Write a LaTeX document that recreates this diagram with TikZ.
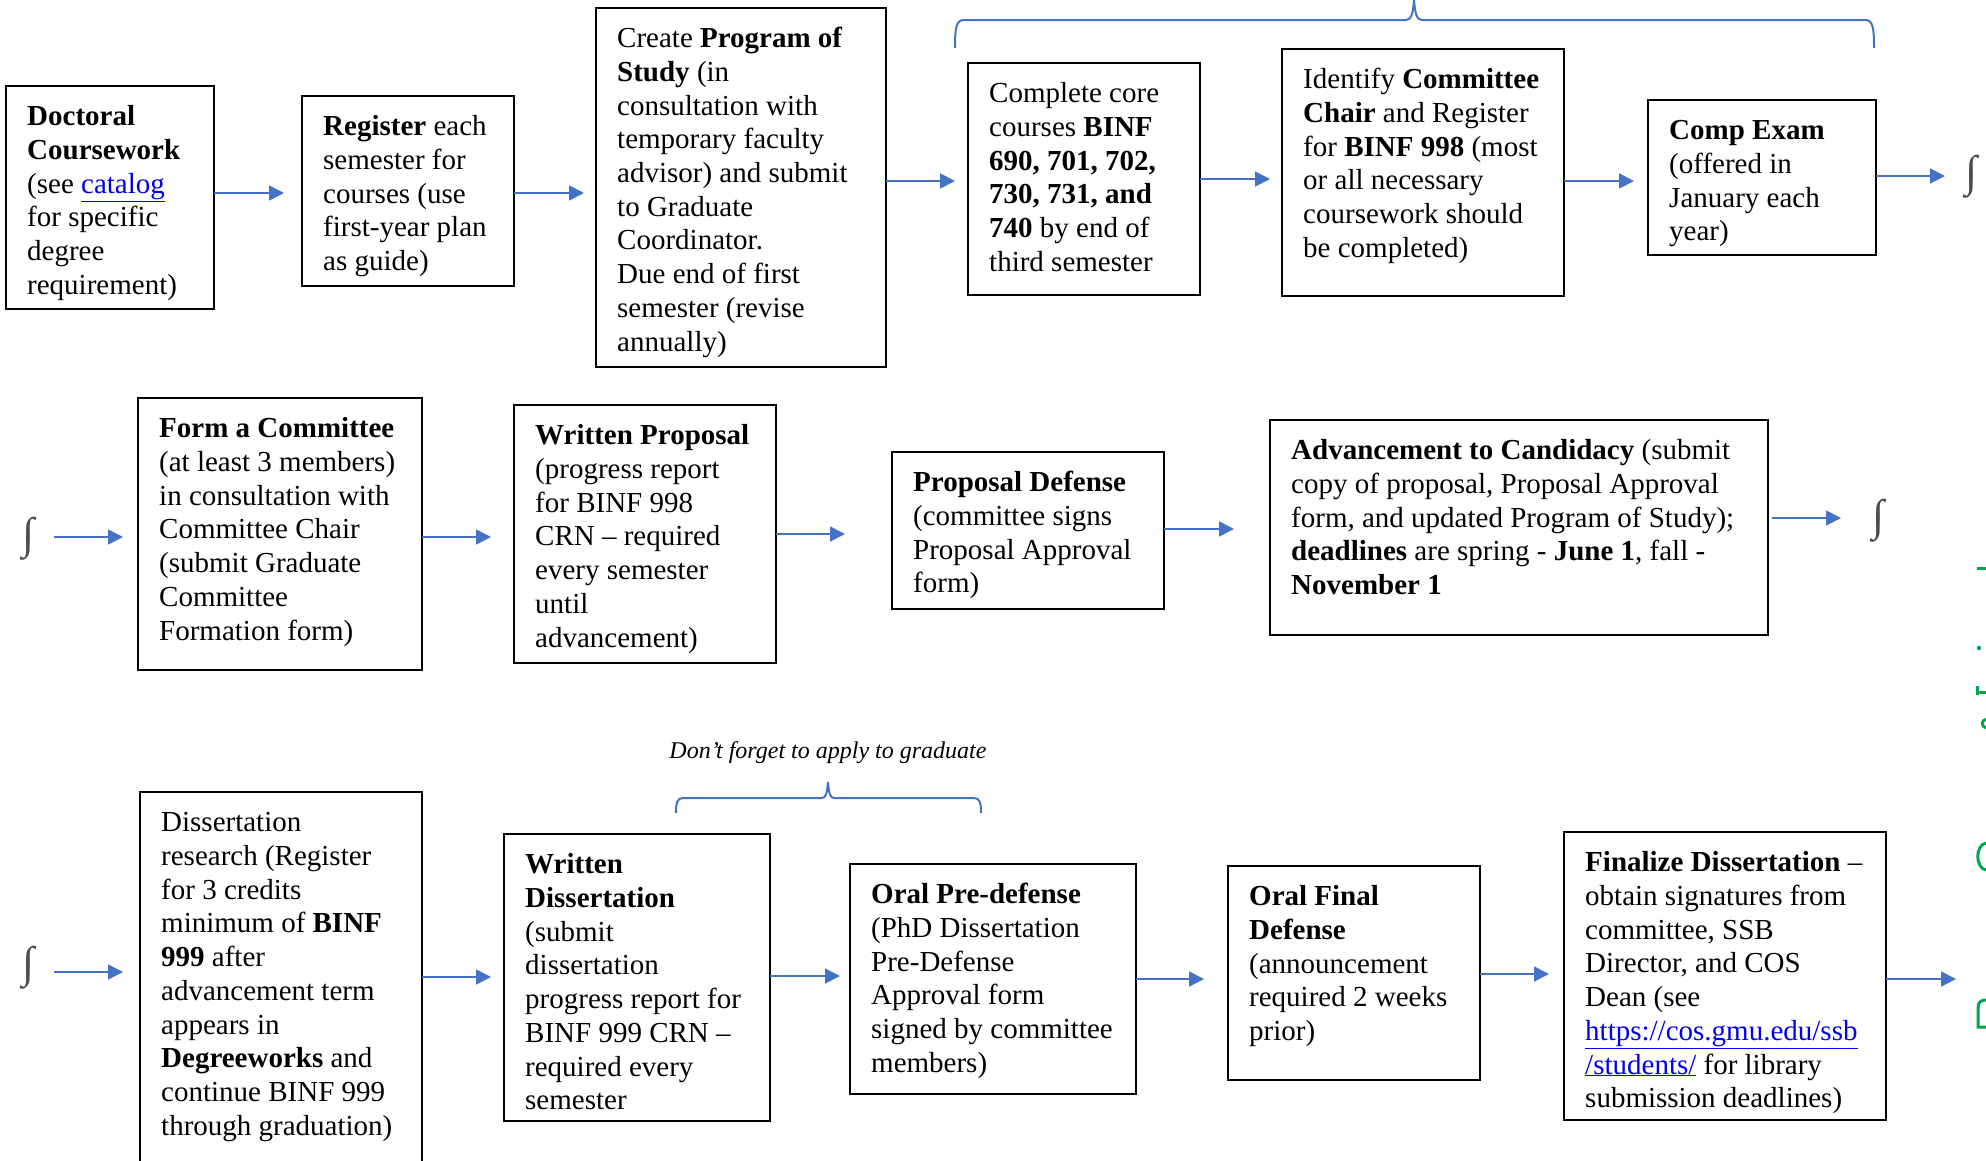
\documentclass[tikz,border=0pt]{standalone}
\usepackage{fontspec}
\setmainfont{Liberation Serif}
\usetikzlibrary{arrows.meta}
\definecolor{arrowblue}{RGB}{68,114,196}
\definecolor{linkblue}{RGB}{0,0,238}
\definecolor{markgreen}{RGB}{0,166,80}
\newcommand\lnk[1]{\textcolor{linkblue}{\underline{#1}}}
\begin{document}
\begin{tikzpicture}[x=1pt,y=-1pt,
  box/.style={draw, line width=2.5pt, inner sep=0pt, outer sep=0pt, anchor=north west},
  txt/.style={anchor=north west, inner sep=0pt, align=left, font=\fontsize{29}{33.7}\selectfont},
  arr/.style={draw=arrowblue, line width=1.8pt, -{Triangle[length=15pt,width=15pt]}},
  intg/.style={inner sep=0pt, text=black!70, font=\fontsize{44}{44}\selectfont\bfseries},
  brace/.style={draw=arrowblue, line width=2pt},
  gmark/.style={draw=markgreen, line width=3pt}
]
\useasboundingbox (0,0) rectangle (1986,1160);

% ---------- Row 1 ----------
\node[box, minimum width=208pt, minimum height=223pt] (b1) at (6,86) {};
\node[box, minimum width=212pt, minimum height=190pt] (b2) at (302,96) {};
\node[box, minimum width=290pt, minimum height=359pt] (b3) at (596,8) {};
\node[box, minimum width=232pt, minimum height=232pt] (b4) at (968,63) {};
\node[box, minimum width=282pt, minimum height=247pt] (b5) at (1282,49) {};
\node[box, minimum width=228pt, minimum height=155pt] (b6) at (1648,100) {};

\node[txt] (t1) at ([shift={(21,16)}]b1.north west) {\strut\textbf{Doctoral}\\ \textbf{Coursework}\\ (see \lnk{catalog}\\ for specific\\ degree\\ requirement)};
\node[txt] (t2) at ([shift={(21,16)}]b2.north west) {\strut\textbf{Register} each\\ semester for\\ courses (use\\ first-year plan\\ as guide)};
\node[txt] (t3) at ([shift={(21,16)}]b3.north west) {\strut Create \textbf{Program of}\\ \textbf{Study} (in\\ consultation with\\ temporary faculty\\ advisor) and submit\\ to Graduate\\ Coordinator.\\ Due end of first\\ semester (revise\\ annually)};
\node[txt] (t4) at ([shift={(21,16)}]b4.north west) {\strut Complete core\\ courses \textbf{BINF}\\ \textbf{690, 701, 702,}\\ \textbf{730, 731, and}\\ \textbf{740} by end of\\ third semester};
\node[txt] (t5) at ([shift={(21,16)}]b5.north west) {\strut Identify \textbf{Committee}\\ \textbf{Chair} and Register\\ for \textbf{BINF 998} (most\\ or all necessary\\ coursework should\\ be completed)};
\node[txt] (t6) at ([shift={(21,16)}]b6.north west) {\strut\textbf{Comp Exam}\\ (offered in\\ January each\\ year)};

\node[intg] (s1) at (1972,177) {∫};

\draw[arr, shorten >=18pt] (b1.east |- 0,193) -- (b2.west |- 0,193);
\draw[arr, shorten >=12pt] (b2.east |- 0,193) -- (b3.west |- 0,193);
\draw[arr, shorten >=13pt] (b3.east |- 0,181) -- (b4.west |- 0,181);
\draw[arr, shorten >=12pt] (b4.east |- 0,179) -- (b5.west |- 0,179);
\draw[arr, shorten >=14pt] (b5.east |- 0,181) -- (b6.west |- 0,181);
\draw[arr, shorten >=27pt] (b6.east |- 0,176) -- (s1.center |- 0,176);

\draw[brace] (955,48) .. controls (955,28) and (956,20) .. (964,20) -- (1406,20)
  .. controls (1411,20) and (1413,14) .. (1414,0)
  .. controls (1415,14) and (1417,20) .. (1422,20) -- (1865,20)
  .. controls (1873,20) and (1874,28) .. (1874,48);

% ---------- Row 2 ----------
\node[box, minimum width=284pt, minimum height=272pt] (b7) at (138,398) {};
\node[box, minimum width=262pt, minimum height=258pt] (b8) at (514,405) {};
\node[box, minimum width=272pt, minimum height=157pt] (b9) at (892,452) {};
\node[box, minimum width=498pt, minimum height=215pt] (b10) at (1270,420) {};

\node[txt] (t7) at ([shift={(21,16)}]b7.north west) {\strut\textbf{Form a Committee}\\ (at least 3 members)\\ in consultation with\\ Committee Chair\\ (submit Graduate\\ Committee\\ Formation form)};
\node[txt] (t8) at ([shift={(21,16)}]b8.north west) {\strut\textbf{Written Proposal}\\ (progress report\\ for BINF 998\\ CRN – required\\ every semester\\ until\\ advancement)};
\node[txt] (t9) at ([shift={(21,16)}]b9.north west) {\strut\textbf{Proposal Defense}\\ (committee signs\\ Proposal Approval\\ form)};
\node[txt] (t10) at ([shift={(21,16)}]b10.north west) {\strut\textbf{Advancement to Candidacy} (submit\\ copy of proposal, Proposal Approval\\ form, and updated Program of Study);\\ \textbf{deadlines} are spring - \textbf{June 1}, fall -\\ \textbf{November 1}};

\node[intg] (s2) at (29,539) {∫};
\node[intg] (s3) at (1879,521) {∫};

\draw[arr, shorten <=25pt, shorten >=15pt] (s2.center |- 0,537) -- (b7.west |- 0,537);
\draw[arr, shorten >=23pt] (b7.east |- 0,537) -- (b8.west |- 0,537);
\draw[arr, shorten >=47pt] (b8.east |- 0,534) -- (b9.west |- 0,534);
\draw[arr, shorten >=36pt] (b9.east |- 0,529) -- (b10.west |- 0,529);
\draw[arr, shorten <=4pt, shorten >=38pt] (b10.east |- 0,518) -- (s3.center |- 0,518);

% ---------- Row 3 ----------
\node[anchor=base, inner sep=0pt, font=\fontsize{24}{28}\selectfont\itshape] (note) at (828,758) {Don’t forget to apply to graduate};
\draw[brace] (676,813) .. controls (676,803) and (677,798) .. (683,798) -- (822,798)
  .. controls (826,798) and (827,793) .. (828,782)
  .. controls (829,793) and (830,798) .. (834,798) -- (974,798)
  .. controls (980,798) and (981,803) .. (981,813);

\node[box, minimum width=282pt, minimum height=372pt] (b11) at (140,792) {};
\node[box, minimum width=266pt, minimum height=287pt] (b12) at (504,834) {};
\node[box, minimum width=286pt, minimum height=230pt] (b13) at (850,864) {};
\node[box, minimum width=252pt, minimum height=214pt] (b14) at (1228,866) {};
\node[box, minimum width=322pt, minimum height=288pt] (b15) at (1564,832) {};

\node[txt] (t11) at ([shift={(21,16)}]b11.north west) {\strut Dissertation\\ research (Register\\ for 3 credits\\ minimum of \textbf{BINF}\\ \textbf{999} after\\ advancement term\\ appears in\\ \textbf{Degreeworks} and\\ continue BINF 999\\ through graduation)};
\node[txt] (t12) at ([shift={(21,16)}]b12.north west) {\strut\textbf{Written}\\ \textbf{Dissertation}\\ (submit\\ dissertation\\ progress report for\\ BINF 999 CRN –\\ required every\\ semester};
\node[txt] (t13) at ([shift={(21,16)}]b13.north west) {\strut\textbf{Oral Pre-defense}\\ (PhD Dissertation\\ Pre-Defense\\ Approval form\\ signed by committee\\ members)};
\node[txt] (t14) at ([shift={(21,16)}]b14.north west) {\strut\textbf{Oral Final}\\ \textbf{Defense}\\ (announcement\\ required 2 weeks\\ prior)};
\node[txt] (t15) at ([shift={(21,16)}]b15.north west) {\strut\textbf{Finalize Dissertation} –\\ obtain signatures from\\ committee, SSB\\ Director, and COS\\ Dean (see\\ \lnk{https://cos.gmu.edu/ssb}\\ \lnk{/students/} for library\\ submission deadlines)};

\node[intg] (s4) at (29,968) {∫};
\coordinate (e1) at (1956,979);

\draw[arr, shorten <=25pt, shorten >=17pt] (s4.center |- 0,972) -- (b11.west |- 0,972);
\draw[arr, shorten >=13pt] (b11.east |- 0,977) -- (b12.west |- 0,977);
\draw[arr, shorten >=10pt] (b12.east |- 0,976) -- (b13.west |- 0,976);
\draw[arr, shorten >=24pt] (b13.east |- 0,979) -- (b14.west |- 0,979);
\draw[arr, shorten >=15pt] (b14.east |- 0,974) -- (b15.west |- 0,974);
\draw[arr] (b15.east |- e1) -- (e1);

% ---------- clipped green marks at right edge ----------
\draw[gmark] (1977,568) -- (1986,568);
\fill[markgreen] (1979,648) circle (2.2);
\draw[gmark] (1977,692) -- (1986,692);
\draw[gmark] (1977,686) -- (1977,695);
\draw[gmark] (1986,719) .. controls (1981,721) and (1981,726) .. (1986,728);
\draw[gmark] (1986,843) .. controls (1975,845) and (1975,868) .. (1986,870);
\draw[gmark] (1986,1027) -- (1978,1027) -- (1978,1008) .. controls (1978,1002) and (1981,1000) .. (1986,1000);
\end{tikzpicture}
\end{document}
